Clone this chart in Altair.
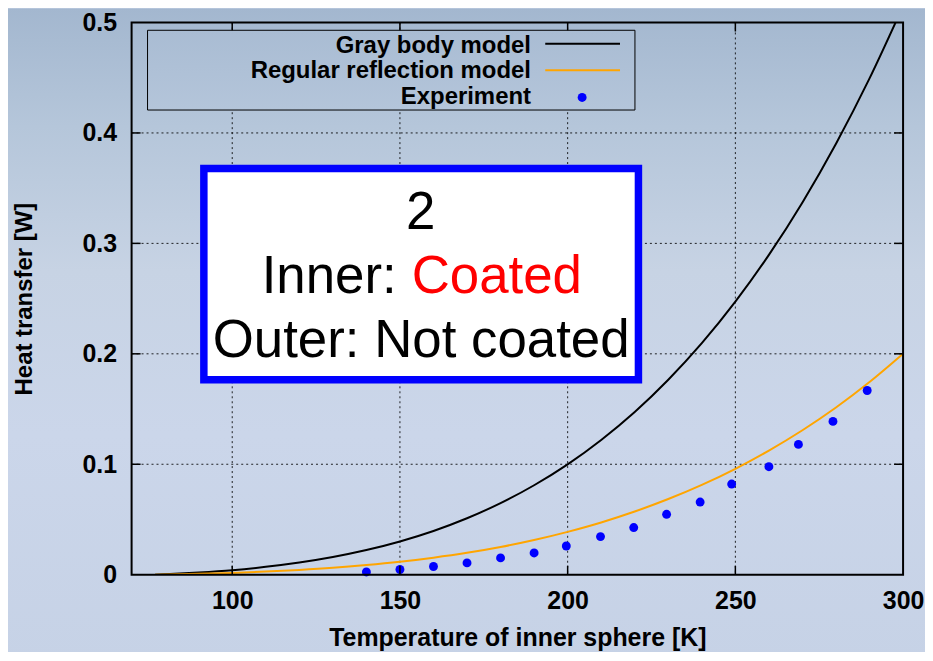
import altair as alt
import pandas as pd

# ---------------- data ----------------
model_temps = [77, 80, 90, 100, 110, 120, 130, 140, 150, 160, 170, 180, 190,
               200, 210, 220, 230, 240, 250, 260, 270, 280, 290, 300]
gray_body = [0.0, 0.0004, 0.0020, 0.0041, 0.0071, 0.0110, 0.0160, 0.0223,
             0.0301, 0.0396, 0.0511, 0.0648, 0.0810, 0.0999, 0.1220, 0.1473,
             0.1765, 0.2096, 0.2472, 0.2896, 0.3371, 0.3903, 0.4494, 0.5150]
regular_reflection = [0.0, 0.0001, 0.0008, 0.0016, 0.0028, 0.0043, 0.0062,
                      0.0087, 0.0117, 0.0154, 0.0198, 0.0251, 0.0314, 0.0388,
                      0.0473, 0.0572, 0.0685, 0.0813, 0.0959, 0.1124, 0.1308,
                      0.1514, 0.1744, 0.2000]
exp_temps = [140, 150, 160, 170, 180, 190, 199.6, 209.8, 219.7, 229.5, 239.5,
             248.9, 260, 268.8, 279.1, 289.3]
exp_values = [0.0025, 0.0047, 0.0074, 0.0107, 0.0152, 0.0197, 0.0260, 0.0345,
              0.0427, 0.0547, 0.0658, 0.0821, 0.0978, 0.1180, 0.1388, 0.1668]

x_ticks = [100, 150, 200, 250, 300]
y_ticks = [0, 0.1, 0.2, 0.3, 0.4, 0.5]
legend_labels = ["Gray body model", "Regular reflection model", "Experiment"]
note_lines = ["2", "Inner:", "Coated", "Outer: Not coated"]

x_title = "Temperature of inner sphere [K]"
y_title = "Heat transfer [W]"

# ---------------- tables ----------------
models = pd.DataFrame({"T": model_temps, "gray": gray_body, "reg": regular_reflection})
exp = pd.DataFrame({"T": exp_temps, "Q": exp_values})
xt = pd.DataFrame({"v": x_ticks[:-1]})
yt = pd.DataFrame({"v": y_ticks[1:-1]})
one = pd.DataFrame({"a": [0]})

W, H = 774, 554
FONT = "Liberation Sans"

xscale = alt.Scale(domain=[70, 300], nice=False, zero=False)
yscale = alt.Scale(domain=[0, 0.5], nice=False)

xaxis = alt.Axis(values=x_ticks, format="d", grid=False, ticks=False,
                 domain=False, zindex=1, labelFont=FONT, labelFontWeight="bold",
                 labelFontSize=25, labelColor="black", labelPadding=14,
                 labelFlush=False, labelOverlap=False, labelBound=False,
                 title=x_title, titleFont=FONT, titleFontSize=25,
                 titleFontWeight="bold", titleColor="black", titlePadding=12)
yaxis = alt.Axis(values=y_ticks, format="~g", grid=False, ticks=False,
                 domain=False, zindex=1, labelFont=FONT, labelFontWeight="bold",
                 labelFontSize=25, labelColor="black", labelPadding=15,
                 labelFlush=False, labelOverlap=False, labelBound=False,
                 title=y_title, titleFont=FONT, titleFontSize=24,
                 titleFontWeight="bold", titleColor="black", titlePadding=46)

bg_grad = alt.LinearGradient(
    gradient="linear", x1=0, x2=0, y1=0, y2=1,
    stops=[alt.GradientStop(offset=0.0, color="#a3b7cf"),
           alt.GradientStop(offset=0.18, color="#b5c6da"),
           alt.GradientStop(offset=0.40, color="#c7d3e4"),
           alt.GradientStop(offset=0.65, color="#cbd6ea"),
           alt.GradientStop(offset=1.0, color="#c6d2e6")])

background = alt.Chart(one).mark_rect(fill=bg_grad, strokeWidth=0).encode(
    x=alt.value(-124), x2=alt.value(W + 30), y=alt.value(-14), y2=alt.value(H + 90))

# dotted grid
grid_x = alt.Chart(xt).mark_rule(color="black", strokeWidth=1, strokeDash=[2, 3],
                                 opacity=0.85).encode(
    x=alt.X("v:Q", scale=xscale), y=alt.value(0), y2=alt.value(H))
grid_y = alt.Chart(yt).mark_rule(color="black", strokeWidth=1, strokeDash=[2, 3],
                                 opacity=0.85).encode(
    y=alt.Y("v:Q", scale=yscale), x=alt.value(0), x2=alt.value(W))

gray_line = alt.Chart(models).mark_line(color="black", strokeWidth=2, clip=True,
                                         interpolate="monotone").encode(
    x=alt.X("T:Q", scale=xscale, axis=xaxis),
    y=alt.Y("gray:Q", scale=yscale, axis=yaxis))
reg_line = alt.Chart(models).mark_line(color="#ffa500", strokeWidth=2, clip=True,
                                        interpolate="monotone").encode(
    x=alt.X("T:Q", scale=xscale), y=alt.Y("reg:Q", scale=yscale))
points = alt.Chart(exp).mark_circle(color="#0000ff", size=80, opacity=1).encode(
    x=alt.X("T:Q", scale=xscale), y=alt.Y("Q:Q", scale=yscale))

# inward mirrored ticks
tick_b = alt.Chart(xt).mark_rule(color="black", strokeWidth=1.5).encode(
    x=alt.X("v:Q", scale=xscale), y=alt.value(H), y2=alt.value(H - 9))
tick_t = alt.Chart(xt).mark_rule(color="black", strokeWidth=1.5).encode(
    x=alt.X("v:Q", scale=xscale), y=alt.value(0), y2=alt.value(9))
tick_l = alt.Chart(yt).mark_rule(color="black", strokeWidth=1.5).encode(
    y=alt.Y("v:Q", scale=yscale), x=alt.value(0), x2=alt.value(9))
tick_r = alt.Chart(yt).mark_rule(color="black", strokeWidth=1.5).encode(
    y=alt.Y("v:Q", scale=yscale), x=alt.value(W), x2=alt.value(W - 9))

# legend (key box)
leg_fill = alt.LinearGradient(
    gradient="linear", x1=0, x2=0, y1=0, y2=1,
    stops=[alt.GradientStop(offset=0.0, color="#a9bcd3"),
           alt.GradientStop(offset=1.0, color="#b4c5da")])
leg_box = alt.Chart(one).mark_rect(fill=leg_fill, stroke="black", strokeWidth=1).encode(
    x=alt.value(16), x2=alt.value(505), y=alt.value(7.8), y2=alt.value(87.8))
leg_text = [
    alt.Chart(one).mark_text(align="right", baseline="alphabetic", font=FONT,
                             fontWeight="bold", fontSize=24, color="black").encode(
        x=alt.value(400.7), y=alt.value(yy), text=alt.value(lbl))
    for lbl, yy in zip(legend_labels, [30.2, 56.0, 81.5])
]
leg_l1 = alt.Chart(one).mark_rule(color="black", strokeWidth=2).encode(
    x=alt.value(415), x2=alt.value(490), y=alt.value(21.2))
leg_l2 = alt.Chart(one).mark_rule(color="#ffa500", strokeWidth=2).encode(
    x=alt.value(415), x2=alt.value(490), y=alt.value(47.8))
leg_pt = alt.Chart(one).mark_circle(color="#0000ff", size=80, opacity=1).encode(
    x=alt.value(452), y=alt.value(75.2))

# annotation box
note_box = alt.Chart(one).mark_rect(fill="white", stroke="#0000ff", strokeWidth=7.5).encode(
    x=alt.value(72.5), x2=alt.value(508.5), y=alt.value(146.5), y2=alt.value(358.5))
nt = dict(baseline="alphabetic", font=FONT, fontSize=53)
note1 = alt.Chart(one).mark_text(align="center", color="black", **nt).encode(
    x=alt.value(290), y=alt.value(207.5), text=alt.value(note_lines[0]))
note2a = alt.Chart(one).mark_text(align="right", color="black", **nt).encode(
    x=alt.value(266), y=alt.value(271.8), text=alt.value(note_lines[1]))
note2b = alt.Chart(one).mark_text(align="left", color="#ff0000", **nt).encode(
    x=alt.value(281), y=alt.value(271.8), text=alt.value(note_lines[2]))
note3 = alt.Chart(one).mark_text(align="center", color="black", **nt).encode(
    x=alt.value(290.5), y=alt.value(335.2), text=alt.value(note_lines[3]))

# plot frame
frame = alt.Chart(one).mark_rect(fillOpacity=0, stroke="black", strokeWidth=2).encode(
    x=alt.value(0), x2=alt.value(W), y=alt.value(0), y2=alt.value(H))

chart = alt.layer(
    background, grid_x, grid_y, gray_line, reg_line, points,
    tick_b, tick_t, tick_l, tick_r,
    leg_box, *leg_text, leg_l1, leg_l2, leg_pt,
    note_box, note1, note2a, note2b, note3, frame
).properties(
    width=W, height=H,
    autosize=alt.AutoSizeParams(type="none"),
    padding={"left": 124, "top": 13.5, "right": 22, "bottom": 76},
    background="#c6d2e6",
).configure_view(stroke=None)

chart.save("out.html", embed_options={"renderer": "svg", "actions": False})
